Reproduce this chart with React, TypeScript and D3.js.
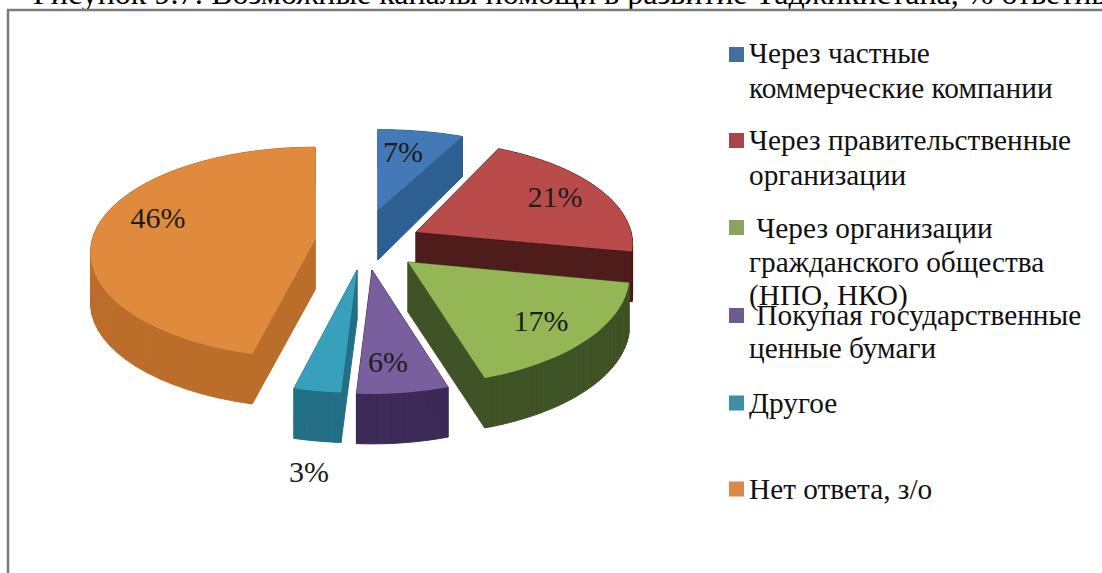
import React from "react";
import * as d3 from "d3";

// ---- data ----
const categories = [
  ["Через частные", "коммерческие компании"],
  ["Через правительственные", "организации"],
  ["\u00a0Через организации", "гражданского общества", "(НПО, НКО)"],
  ["\u00a0Покупая государственные", "ценные бумаги"],
  ["Другое"],
  ["Нет ответа, з/о"],
];
const values = [7, 21, 17, 6, 3, 46];
const valueLabels = ["7%", "21%", "17%", "6%", "3%", "46%"];
const title = "Рисунок 9.7: Возможные каналы помощи в развитие Таджикистана, % ответивших";

// ---- style / layout ----
const topColors = ["#4379b6", "#b94c4b", "#94b655", "#7a5f9f", "#38a0ba", "#e08a3c"];
const wallColors = ["#2f5f92", "#4f1a1a", "#3f5225", "#3c2b58", "#236f85", "#bb6d2c"];
const legendColors = ["#436f9f", "#a5474a", "#8ba35c", "#6f5a8f", "#3f8ea6", "#d98a4a"];
const apexX = [378, 416, 408, 372, 357, 315];
const apexY = [210, 232, 262, 270, 270, 240];
const radiusX = [220, 215, 220, 218, 224, 223];
const radiusY = [90, 102, 108, 109, 108, 104];
const drawOrder = [0, 5, 1, 4, 3, 2];
const labelX = [403, 555, 541, 388, 309, 158];
const labelY = [152, 197, 321, 362, 472, 218];
const legendY = [54.5, 140.5, 227.5, 315.5, 403, 489];
const legendBaselines = [[63, 98], [150, 185], [238, 272, 305], [325, 358], [413], [499]];
const perspective = 0.12;
const font = "'Liberation Serif', serif";

const pie = d3.pie<number>().sort(null).value((d) => d).startAngle(0).endAngle(2 * Math.PI);
const arcs = pie(values);
const lineGen = d3.line<[number, number]>();

function project(i: number, angle: number, r: number): [number, number] {
  const u = r * Math.sin(angle);
  const v = r * Math.cos(angle);
  const w = 1 + perspective * v;
  return [apexX[i] + (radiusX[i] * u) / w, apexY[i] - (radiusY[i] * v) / w];
}
function depthAt(angle: number, r: number): number {
  const v = r * Math.cos(angle);
  return v > 0 ? 50 - 11 * v : 50;
}
function ring(i: number): { p: [number, number]; d: number }[] {
  const a = arcs[i];
  const angles = d3.range(0, 41).map((k) => a.startAngle + ((a.endAngle - a.startAngle) * k) / 40);
  return [
    { p: project(i, 0, 0), d: 50 },
    ...angles.map((t) => ({ p: project(i, t, 1), d: depthAt(t, 1) })),
  ];
}

export default function App() {
  return (
    <svg width={1102} height={573} style={{ position: "fixed", left: 0, top: 0, background: "#fff" }}>
      <defs>
        <filter id="soft" x="-5%" y="-5%" width="110%" height="110%">
          <feGaussianBlur stdDeviation="0.6" />
        </filter>
      </defs>
      <text x={33} y={4} fontFamily={font} fontSize={32} fill="#000">{title}</text>
      <path d="M1102,10H8V573" fill="none" stroke="#7b7b7b" strokeWidth={2.5} />
      <g filter="url(#soft)">
        {drawOrder.map((i) => {
          const pts = ring(i);
          return (
            <g key={i}>
              {pts.map((pt, k) => {
                const next = pts[(k + 1) % pts.length];
                const quad: [number, number][] = [
                  pt.p,
                  next.p,
                  [next.p[0], next.p[1] + next.d],
                  [pt.p[0], pt.p[1] + pt.d],
                ];
                return <path key={k} d={lineGen(quad) + "Z"} fill={wallColors[i]} stroke={wallColors[i]} strokeWidth={1} />;
              })}
              <path d={lineGen(pts.map((q) => q.p)) + "Z"} fill={topColors[i]} />
            </g>
          );
        })}
      </g>
      {valueLabels.map((t, i) => (
        <text key={t} x={labelX[i]} y={labelY[i]} dy="0.33em" textAnchor="middle" fontFamily={font} fontSize={30} fill="#1c1c1c">{t}</text>
      ))}
      {categories.map((lines, i) => (
        <g key={i}>
          <rect x={729} y={legendY[i] - 7.5} width={15} height={15} fill={legendColors[i]} />
          {lines.map((l, k) => (
            <text key={k} x={749} y={legendBaselines[i][k]} fontFamily={font} fontSize={29.3} fill="#111">{l}</text>
          ))}
        </g>
      ))}
    </svg>
  );
}
